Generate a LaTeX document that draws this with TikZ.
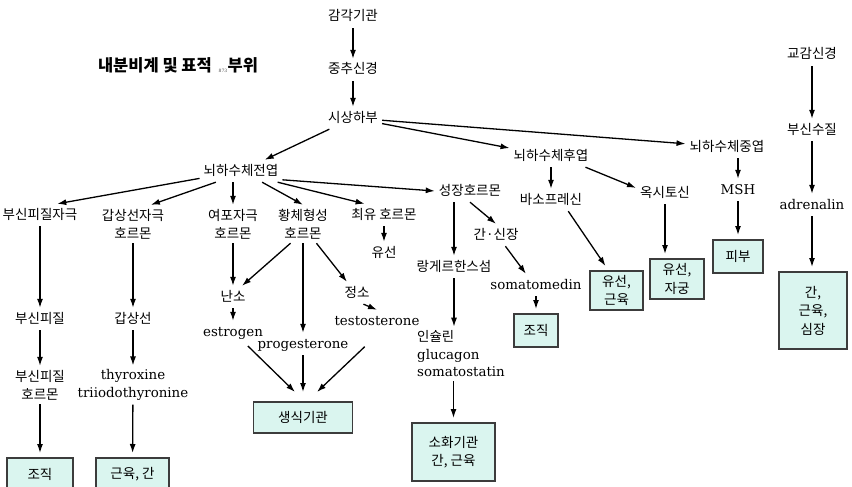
\documentclass[tikz,border=0pt]{standalone}
\usepackage{fontspec}
\setmainfont{DejaVu Serif}
\newfontfamily\kr{Noto Sans CJK KR}
\usetikzlibrary{arrows.meta}
\definecolor{boxfill}{RGB}{218,245,239}
\definecolor{boxline}{RGB}{60,60,60}

\begin{document}
\begin{tikzpicture}[x=1pt, y=-1pt,
    lat/.style={inner sep=4pt, text height=11pt, text depth=3pt, font=\fontsize{13.4}{18}\selectfont},
    kor/.style={lat, font=\kr\fontsize{13.5}{18}\selectfont},
    kor2/.style={inner sep=4pt, align=center, font=\kr\fontsize{13.5}{18}\selectfont},
    lat2/.style={inner sep=4pt, align=center, font=\fontsize{13.4}{17.5}\selectfont},
    organ/.style={draw=boxline, fill=boxfill, line width=1.2pt, inner sep=0pt, outer sep=5pt, align=center, font=\kr\fontsize{13.5}{18.5}\selectfont},
    arr/.style={-{Latex[length=9pt,width=6pt]}, line width=1.3pt}]
    \useasboundingbox (0,0) rectangle (852,487);

    \node[font=\kr\bfseries\fontsize{16.5}{20}\selectfont] (title) at (178,65) {내분비계 및 표적\hspace{12pt} 부위};
    \node[font=\fontsize{4.5}{5}\selectfont, text=black!70, inner sep=0pt] (pgno) at (223,71) {873};

    \node[kor] (organs) at (353,17) {감각기관};
    \node[kor] (cns) at (353,70) {중추신경};
    \node[kor] (hypo) at (353,118) {시상하부};
    \node[kor] (ant) at (241,171) {뇌하수체전엽};
    \node[kor] (post) at (551,156) {뇌하수체후엽};
    \node[kor] (mid) at (727,147) {뇌하수체중엽};

    \node[kor] (symp) at (812,55) {교감신경};
    \node[kor] (medulla) at (812,130) {부신수질};
    \node[lat] (adren) at (812,205) {adrenalin};
    \node[organ, minimum width=68pt, minimum height=77pt] (heart) at (813,310.5) {간,\\근육,\\심장};

    \node[lat] (msh) at (738,190) {MSH};
    \node[organ, minimum width=50pt, minimum height=33pt] (skin) at (738,256.5) {피부};
    \node[kor] (oxy) at (665,193) {옥시토신};
    \node[organ, minimum width=54pt, minimum height=40pt] (uterus) at (677,279) {유선,\\자궁};
    \node[kor] (vaso) at (551,200) {바소프레신};
    \node[organ, minimum width=53pt, minimum height=39pt] (mammary) at (616.5,290.5) {유선,\\근육};

    \node[kor] (gh) at (470,191) {성장호르몬};
    \node[kor] (liver) at (496,235) {간·신장};
    \node[kor] (islet) at (454,267) {랑게르한스섬};
    \node[lat] (somed) at (536,285) {somatomedin};
    \node[organ, minimum width=44pt, minimum height=33pt] (tissueB) at (536,330.5) {조직};
    \node[lat2, align=left, anchor=west] (insulin) at (413,354) {{\kr 인슐린}\\glucagon\\somatostatin};
    \node[organ, minimum width=83pt, minimum height=58pt] (digest) at (453.5,452) {소화기관\\간, 근육};

    \node[kor] (acth) at (40,215) {부신피질자극};
    \node[kor2] (tsh) at (133,224) {갑상선자극\\호르몬};
    \node[kor2] (fsh) at (233,224) {여포자극\\호르몬};
    \node[kor2] (lh) at (303,224) {황체형성\\호르몬};
    \node[kor] (prl) at (384,215) {최유 호르몬};
    \node[kor] (milk) at (384,253) {유선};

    \node[kor] (ovary) at (233,297) {난소};
    \node[kor] (testis) at (357,293) {정소};
    \node[lat] (estro) at (233,332) {estrogen};
    \node[lat] (proge) at (303,344) {progesterone};
    \node[lat] (testo) at (377,321) {testosterone};
    \node[organ, minimum width=99pt, minimum height=31pt, outer sep=10pt] (repro) at (303,417.5) {생식기관};

    \node[kor] (cortex) at (40,319) {부신피질};
    \node[kor2] (cortexh) at (40,385) {부신피질\\호르몬};
    \node[organ, minimum width=66pt, minimum height=32pt] (tissueA) at (40,474) {조직};
    \node[kor] (thyroid) at (133,319) {갑상선};
    \node[lat2] (thyrox) at (133,385) {thyroxine\\triiodothyronine};
    \node[organ, minimum width=73pt, minimum height=32pt] (muscle) at (132.5,474) {근육, 간};

    \draw[arr] (organs) -- (cns);
    \draw[arr] (cns) -- (hypo);
    \draw[arr] (hypo) -- (ant);
    \draw[arr] (hypo) -- (post);
    \draw[arr] (hypo) -- (mid);

    \draw[arr] (symp) -- (medulla);
    \draw[arr] (medulla) -- (adren);
    \draw[arr] (adren) -- (adren |- heart.north);

    \draw[arr] (mid.south -| msh) -- (msh);
    \draw[arr] (msh) -- (skin);
    \draw[arr] (post.-18) -- (oxy.170);
    \draw[arr] (oxy) -- (oxy |- uterus.north);
    \draw[arr] (post) -- (vaso);
    \draw[arr] (vaso.-33) -- ([xshift=-11pt]mammary.north);

    \draw[arr] (ant.-12) -- (gh.west);
    \draw[arr] (gh.south) -- (liver.north);
    \draw[arr] (liver.-50) -- (somed.132);
    \draw[arr] (somed) -- (tissueB);
    \draw[arr] (gh.south -| islet) -- (islet);
    \draw[arr] (islet) -- (islet |- insulin.north);
    \draw[arr] (insulin.south -| digest) -- (digest);

    \draw[arr] (ant) -- (acth.33);
    \draw[arr] (ant.204) -- (tsh.47);
    \draw[arr] (ant.south -| fsh) -- (fsh);
    \draw[arr] (ant.-28) -- (lh.north);
    \draw[arr] (ant.-17) -- (prl.150);
    \draw[arr] (prl) -- (milk);

    \draw[arr] (fsh) -- (ovary);
    \draw[arr] (lh.237) -- (ovary.51);
    \draw[arr] (lh) -- (lh |- proge.north);
    \draw[arr] (lh.-55) -- (testis.132);
    \draw[arr] (testis.-60) -- (testo.north);
    \draw[arr] (ovary) -- (estro);
    \draw[arr, shorten <=4pt] ([xshift=12pt]estro.south) -- ([xshift=-8pt]repro.north);
    \draw[arr] (proge) -- (repro);
    \draw[arr, shorten <=21pt] ([xshift=3pt]testo.south) -- ([xshift=14pt]repro.north);

    \draw[arr] (acth) -- (cortex);
    \draw[arr] (cortex) -- (cortexh);
    \draw[arr] (cortexh) -- (tissueA);
    \draw[arr] (tsh) -- (thyroid);
    \draw[arr] (thyroid) -- (thyrox);
    \draw[arr] (thyrox) -- (muscle);
\end{tikzpicture}
\end{document}
